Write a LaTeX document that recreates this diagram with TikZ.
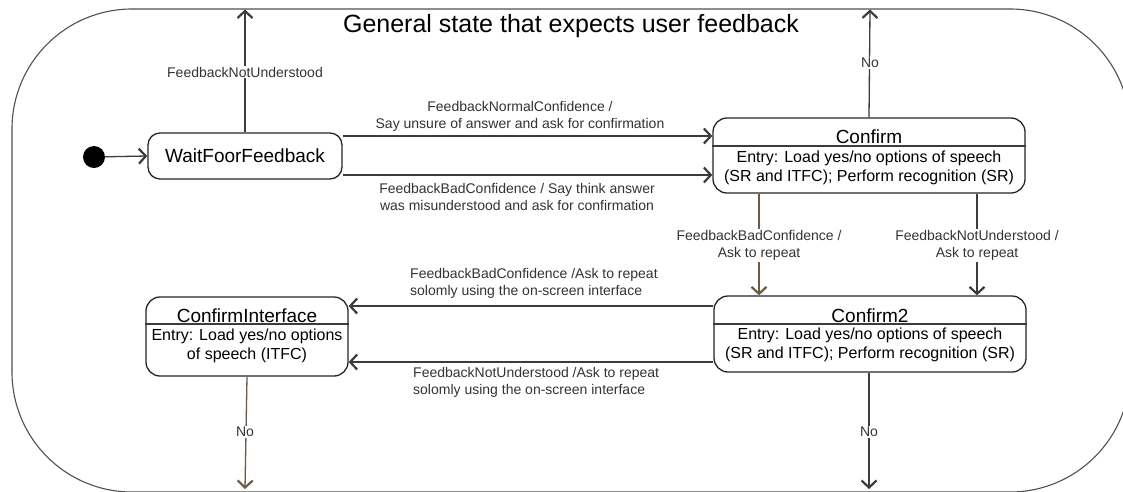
\documentclass[tikz,border=0pt]{standalone}
\usepackage{fontspec}
\setmainfont{Liberation Sans}
\usetikzlibrary{arrows.meta,calc}

\definecolor{edgegray}{HTML}{3C3C3C}
\definecolor{edgebrown}{HTML}{6E5A44}
\definecolor{boxgray}{HTML}{262626}
\definecolor{labelgray}{HTML}{333333}
\definecolor{framegray}{HTML}{505050}

\tikzset{
  statebox/.style={draw=boxgray, line width=1.3pt, fill=white, rounded corners=14pt, inner sep=0pt},
  arr/.style={draw=edgegray, line width=1.3pt, -{Straight Barb[length=7pt,width=15pt,line width=2.2pt]}},
  sepline/.style={draw=edgegray, line width=2pt},
  lbl/.style={text=labelgray, font=\fontsize{14}{17}\selectfont, align=center, inner sep=1pt},
  lblbg/.style={lbl, fill=white},
  sname/.style={font=\fontsize{19}{22}\selectfont, inner sep=0pt},
  entry/.style={font=\fontsize{16}{19}\selectfont, align=center, inner sep=0pt},
}

\begin{document}
\begin{tikzpicture}[x=1pt,y=-1pt]
\clip (0,0) rectangle (1123,491);
\fill[white] (0,0) rectangle (1123,491);

% enclosing composite state
\draw[framegray, line width=1.1pt, rounded corners=120pt] (12,9) rectangle (1130,492);
\node[font=\fontsize{25}{30}\selectfont] (title) at (571,26) {General state that expects user feedback};

% exits through the composite boundary
\coordinate (exitWait) at (245,9.5);
\coordinate (exitConfirm) at (870,9.5);
\coordinate (exitInterface) at (245,489);
\coordinate (exitConfirmTwo) at (869,489);

% initial pseudo state
\node[circle, fill=black, minimum size=22pt, inner sep=0pt] (init) at (94,157) {};

% states
\node[statebox, rounded corners=12pt, minimum width=194pt, minimum height=46pt] (wait) at (245,156)
  {\fontsize{19}{22}\selectfont WaitFoorFeedback};

\node[statebox, minimum width=312pt, minimum height=75pt] (confirm) at (869,155.5) {};
\node[sname] (confirmName) at (869,137) {Confirm};
\node[entry] (confirmEntry) at (869,167.5) {Entry: Load yes/no options of speech\\(SR and ITFC); Perform recognition (SR)};
\draw[sepline] ([yshift=-29pt]confirm.north west) -- ([yshift=-29pt]confirm.north east);

\node[statebox, minimum width=312pt, minimum height=76pt] (confirmTwo) at (870,334) {};
\node[sname] (confirmTwoName) at (870,316) {Confirm2};
\node[entry] (confirmTwoEntry) at (870,345) {Entry: Load yes/no options of speech\\(SR and ITFC); Perform recognition (SR)};
\draw[sepline] ([yshift=-29pt]confirmTwo.north west) -- ([yshift=-29pt]confirmTwo.north east);

\node[statebox, minimum width=202pt, minimum height=79pt] (iface) at (247,336.5) {};
\node[sname] (ifaceName) at (247,316) {ConfirmInterface};
\node[entry] (ifaceEntry) at (247,346) {Entry: Load yes/no options\\of speech (ITFC)};
\draw[sepline] ([yshift=-28pt]iface.north west) -- ([yshift=-28pt]iface.north east);

% transitions
\draw[arr] (init) -- (wait.west);

\draw[arr] (wait.north) -- (exitWait);
\node[lblbg] at (245,72) {FeedbackNotUnderstood};

\draw[arr] ([yshift=20pt]wait.east) -- ([yshift=20pt]wait.east -| confirm.west);
\node[lbl] at (520,116.5) {FeedbackNormalConfidence /\\Say unsure of answer and ask for confirmation};

\draw[arr] ([yshift=-19pt]wait.east) -- ([yshift=-19pt]wait.east -| confirm.west);
\node[lbl] at (517,197) {FeedbackBadConfidence / Say think answer\\was misunderstood and ask for confirmation};

\draw[arr] (confirm.north) -- (exitConfirm);
\node[lblbg] at (870,63) {No};

\draw[arr, draw=edgebrown] (confirm.south -| 759,0) -- (confirmTwo.north -| 759,0);
\node[lblbg] at (759,245.5) {FeedbackBadConfidence /\\Ask to repeat};

\draw[arr] (confirm.south -| 977,0) -- (confirmTwo.north -| 977,0);
\node[lblbg] at (977,245.5) {FeedbackNotUnderstood /\\Ask to repeat};

\draw[arr] ([yshift=28pt]confirmTwo.west) -- ([yshift=28pt]confirmTwo.west -| iface.east);
\node[lbl, anchor=west, align=left] at (409,283.5) {FeedbackBadConfidence /Ask to repeat\\solomly using the on-screen interface};

\draw[arr] ([yshift=-28pt]confirmTwo.west) -- ([yshift=-28pt]confirmTwo.west -| iface.east);
\node[lbl, anchor=west, align=left] at (412,382.5) {FeedbackNotUnderstood /Ask to repeat\\solomly using the on-screen interface};

\draw[arr, draw=edgebrown] (iface.south) -- (exitInterface);
\node[lblbg] at (245,432) {No};

\draw[arr] (confirmTwo.south -| 869,0) -- (exitConfirmTwo);
\node[lblbg] at (869,432) {No};
\end{tikzpicture}
\end{document}
